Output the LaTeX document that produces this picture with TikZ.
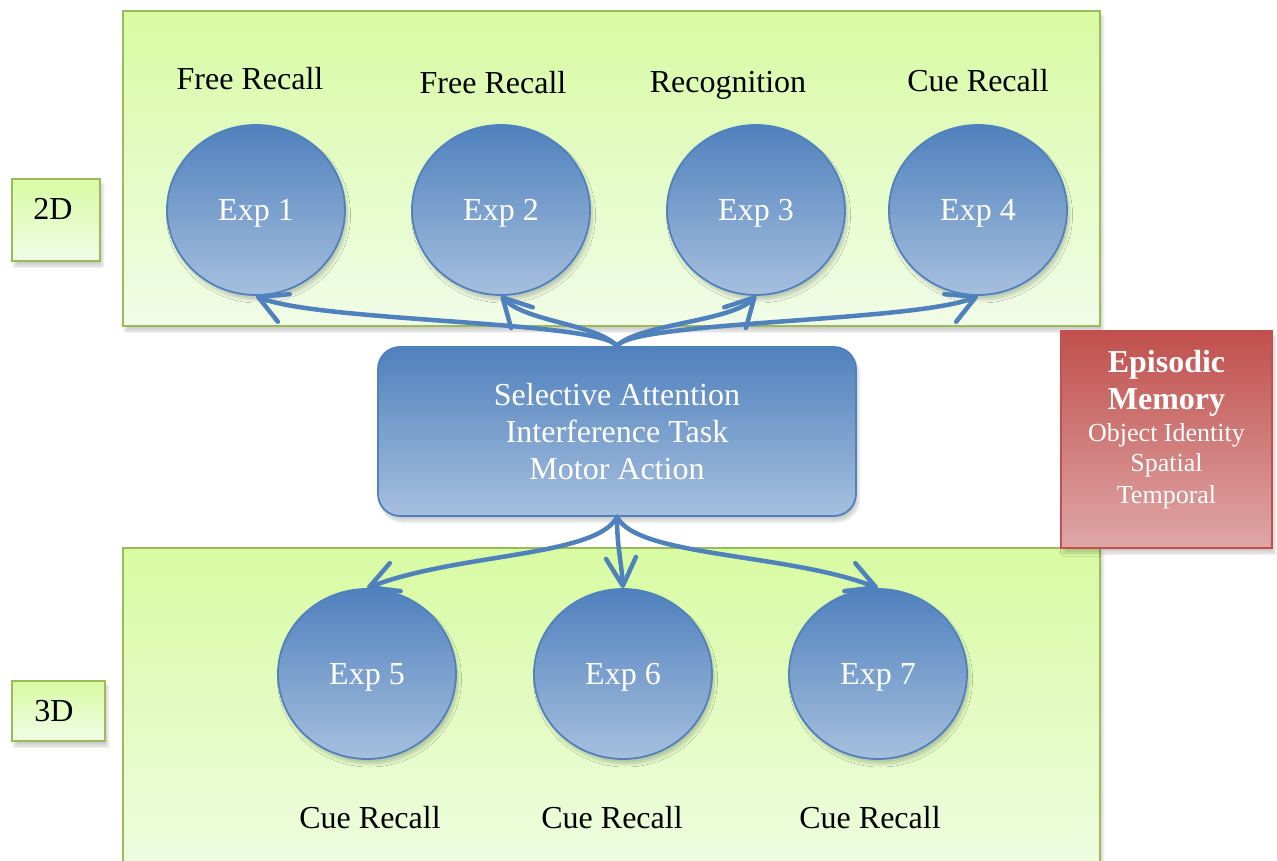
\documentclass[tikz,border=0pt]{standalone}
\usepackage{fontspec}
\setmainfont{Liberation Serif}
\usetikzlibrary{shapes.geometric,arrows.meta,shadows.blur}

\definecolor{accentblue}{HTML}{4F81BD}
\definecolor{paleblue}{HTML}{A7BFDE}
\definecolor{limetop}{HTML}{D8FBA2}
\definecolor{limebot}{HTML}{F1FCE8}
\definecolor{oliveedge}{HTML}{9BBB59}
\definecolor{redtop}{HTML}{C0504D}
\definecolor{redbot}{HTML}{DFA7A6}
\definecolor{rededge}{HTML}{C4504D}

\tikzset{
  softshadow/.style={blur shadow={shadow xshift=2.5pt, shadow yshift=-5pt,
      shadow opacity=20, shadow blur steps=8, shadow blur radius=3pt}},
  panel/.style={rectangle, draw=oliveedge, line width=2pt,
      top color=limetop, bottom color=limebot, softshadow, inner sep=0pt},
  tagtext/.style={anchor=base, font=\fontsize{32}{36}\selectfont},
  expnode/.style={ellipse, draw=accentblue, line width=1.8pt,
      top color=accentblue, bottom color=paleblue, inner sep=0pt,
      minimum width=178pt, minimum height=170pt, text=white, text depth=0pt,
      font=\fontsize{32}{36}\selectfont, softshadow},
  hub/.style={rectangle, rounded corners=22pt, draw=accentblue, line width=1.8pt,
      top color=accentblue, bottom color=paleblue, text=white, align=center,
      minimum width=478pt, minimum height=169pt,
      font=\fontsize{32}{37}\selectfont, softshadow},
  memory/.style={rectangle, draw=rededge, line width=2pt,
      top color=redtop, bottom color=redbot, minimum width=211pt,
      minimum height=217pt, softshadow},
  tasklabel/.style={anchor=base, font=\fontsize{32}{36}\selectfont},
  memtitle/.style={anchor=base, text=white, font=\fontsize{32}{36}\bfseries\selectfont},
  memitem/.style={anchor=base, text=white, font=\fontsize{26}{30}\selectfont},
  conn/.style={draw=accentblue, line width=4.5pt, line cap=round,
      -{Straight Barb[length=28pt, width=30pt, line width=4.5pt, round]}},
}

\begin{document}
\begin{tikzpicture}[x=1pt,y=-1pt]
  \useasboundingbox (0,0) rectangle (1277,861);

  % condition panels
  \node[panel, minimum width=977pt, minimum height=315pt] (top) at (611.5,168.5) {};
  \node[panel, minimum width=977pt, minimum height=360pt] (bottom) at (611.5,728) {};

  % dimension tags
  \node[panel, minimum width=88pt, minimum height=82pt] (tag2d) at (56,220) {};
  \node[tagtext] (tag2dtext) at (53,220) {2D};
  \node[panel, minimum width=93pt, minimum height=60pt] (tag3d) at (58.5,711) {};
  \node[tagtext] (tag3dtext) at (54,721) {3D};

  % shared task box
  \node[hub] (hub) at (617,431.5) {Selective Attention\\Interference Task\\Motor Action};

  % episodic memory box
  \node[memory] (mem) at (1166.5,439.5) {};
  \node[memtitle] (memA) at (1166.5,372) {Episodic};
  \node[memtitle] (memB) at (1166.5,409) {Memory};
  \node[memitem] (memC) at (1166.5,441) {Object Identity};
  \node[memitem] (memD) at (1166.5,471) {Spatial};
  \node[memitem] (memE) at (1166.5,503) {Temporal};

  % 2D experiments
  \node[expnode] (e1) at (256,210) {Exp 1};
  \node[expnode] (e2) at (501,210) {Exp 2};
  \node[expnode] (e3) at (756,210) {Exp 3};
  \node[expnode] (e4) at (978,210) {Exp 4};

  \node[tasklabel] (l1) at (250,90) {Free Recall};
  \node[tasklabel] (l2) at (493,94) {Free Recall};
  \node[tasklabel] (l3) at (728,93) {Recognition};
  \node[tasklabel] (l4) at (978,92) {Cue Recall};

  % 3D experiments
  \node[expnode] (e5) at (367,674) {Exp 5};
  \node[expnode] (e6) at (623,674) {Exp 6};
  \node[expnode] (e7) at (878,674) {Exp 7};

  \node[tasklabel] (l5) at (370,828) {Cue Recall};
  \node[tasklabel] (l6) at (612,828) {Cue Recall};
  \node[tasklabel] (l7) at (870,828) {Cue Recall};

  % links from the task box
  \draw[conn] (hub.north) .. controls +(-15,-25) and +(60,26) .. (e1.south);
  \draw[conn] (hub.north) .. controls +(-20,-22) and +(25,26) .. (e2.south);
  \draw[conn] (hub.north) .. controls +(20,-22) and +(-25,26) .. (e3.south);
  \draw[conn] (hub.north) .. controls +(15,-25) and +(-60,26) .. (e4.south);

  \draw[conn] (hub.south) .. controls +(-20,40) and +(90,-35) .. (e5.north);
  \draw[conn] (hub.south) .. controls +(0,30) and +(-2,-30) .. (e6.north);
  \draw[conn] (hub.south) .. controls +(20,40) and +(-90,-35) .. (e7.north);
\end{tikzpicture}
\end{document}
